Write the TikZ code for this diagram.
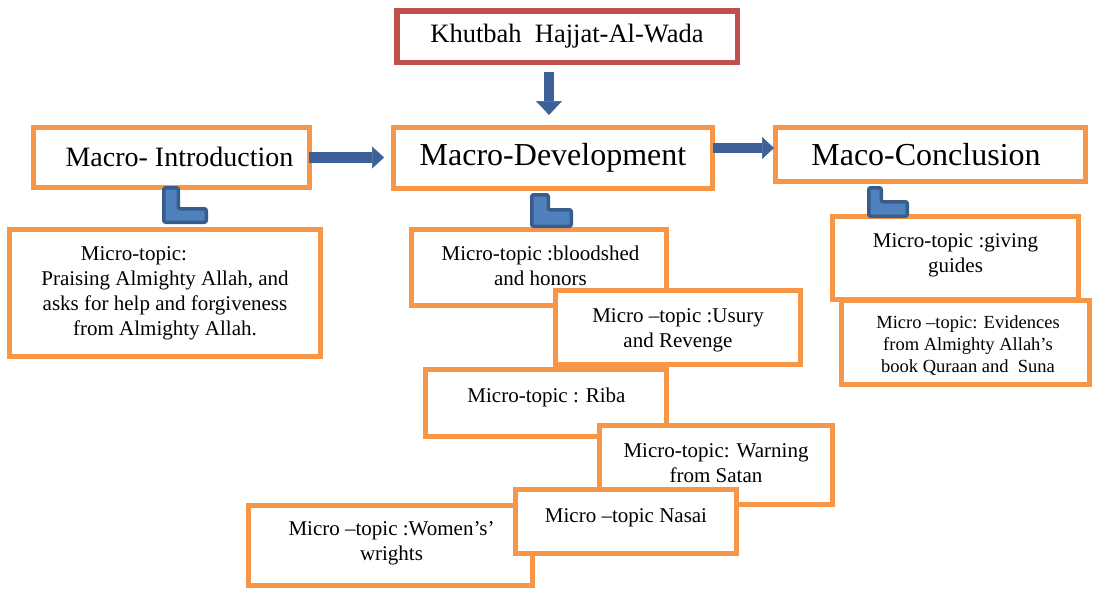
\documentclass[tikz,border=0pt]{standalone}
\usepackage{fontspec}
\setmainfont{Liberation Serif}
\usepackage{tikz}
\usetikzlibrary{arrows.meta}
\definecolor{boxOrange}{HTML}{F79646}
\definecolor{boxRed}{HTML}{C0504D}
\definecolor{arrowBlue}{HTML}{3D6196}
\definecolor{elbowFill}{HTML}{4F81BD}
\definecolor{elbowLine}{HTML}{385D8A}

\begin{document}
\begin{tikzpicture}[x=1pt,y=-1pt]
 \newcommand{\elbowMark}[6]{\draw[elbow] (#1+1.75,#2+1.75) -- ++(#5-3.5,0) -- ++(0,#6) -- ++(#3-#5,0) -- ++(0,#4-#6-3.5) -- ++(-#3+3.5,0) -- cycle;}
	\tikzset{box/.style = {draw=boxOrange,line width=5pt,fill=white,inner sep=0pt}}
	\tikzstyle{macro} = [box,font=\fontsize{32}{36}\selectfont]
	\tikzstyle{microText} = [align=center,anchor=base,inner sep=0pt,font=\fontsize{21}{25}\selectfont]
	\tikzstyle{fat} = [arrowBlue,line width=11pt,-{Triangle[length=12pt,width=22pt,line width=0.5pt]}]
	\tikzstyle{elbow} = [fill=elbowFill,draw=elbowLine,line width=3.5pt,rounded corners=2pt]
	\useasboundingbox (0,0) rectangle (1093,589);
	%title
	\node[box,draw=boxRed,line width=5.5pt,minimum width=340.5,minimum height=51.5,font=\fontsize{26.5}{30}\selectfont] (khutbah) at (567,36.5) {\raisebox{-3pt}{Khutbah~ Hajjat-Al-Wada}};
	%macro level
	\node[macro,font=\fontsize{28}{32}\selectfont,minimum width=276,minimum height=60] (intro) at (171.5,157.5) {\raisebox{2pt}{\hspace*{16pt}Macro- Introduction}};
	\node[macro,minimum width=319,minimum height=61] (dev) at (553,158) {Macro-Development};
	\node[macro,minimum width=310,minimum height=54] (concl) at (930.5,154.5) {\raisebox{-2pt}{Maco-Conclusion\hspace*{9pt}}};
	%arrows
	\draw[fat,line width=10pt,-{Triangle[length=14pt,width=26pt,line width=0.5pt]}] ([xshift=-18pt,yshift=-7pt]khutbah.south) -- ([xshift=-18pt,yshift=10pt]khutbah.south |- dev.north);
	\draw[fat] ([xshift=-3pt]intro.east) -- ([xshift=-7pt]intro.east -| dev.west);
	\draw[fat,line width=10pt] ([xshift=-2pt,yshift=10pt]dev.east) -- ([xshift=1pt,yshift=10pt]dev.east -| concl.west);
	%introduction (text nodes sit on the baseline of their last line)
	\node[box,minimum width=311,minimum height=127] (praise) at (165,293) {};
	\node[microText] (praiseTxt) at (165,335) {Micro-topic:\hspace*{62pt}\\Praising Almighty Allah, and\\asks for help and forgiveness\\from Almighty Allah.};
	%development
	\node[box,minimum width=255,minimum height=76] (blood) at (539,267.5) {};
	\node[microText] (bloodTxt) at (540.5,285) {Micro-topic :bloodshed\\and honors};
	\node[box,minimum width=245,minimum height=74] (usury) at (678,327.5) {};
	\node[microText] (usuryTxt) at (678,347) {Micro –topic :Usury\\and Revenge};
	\node[box,minimum width=241,minimum height=67] (riba) at (546,403) {};
	\node[microText] (ribaTxt) at (546.5,402) {Micro-topic : Riba};
	\node[box,minimum width=233,minimum height=79] (warn) at (716,465) {};
	\node[microText] (warnTxt) at (716,482) {Micro-topic: Warning\\from Satan};
	\node[box,minimum width=284,minimum height=80] (women) at (390.5,545.5) {};
	\node[microText] (womenTxt) at (391.5,560) {Micro –topic :Women’s’\\wrights};
	\node[box,minimum width=221,minimum height=64] (nasai) at (626,521.5) {};
	\node[microText] (nasaiTxt) at (626,522) {Micro –topic Nasai};
	%conclusion
	\node[box,minimum width=246,minimum height=83] (guides) at (955.5,258) {};
	\node[microText] (guidesTxt) at (955.5,272) {Micro-topic :giving\\guides};
	\node[box,minimum width=248,minimum height=84] (evid) at (965.5,342.5) {};
	\node[microText,font=\fontsize{18.5}{22}\selectfont] (evidTxt) at (968,372) {Micro –topic: Evidences\\from Almighty Allah’s\\book Quraan and~ Suna};
	%elbows
	\elbowMark{162}{186}{46}{38}{18}{21}
	\elbowMark{530}{193}{43}{35}{20}{15}
	\elbowMark{867}{186}{42}{32}{16}{14}
\end{tikzpicture}
\end{document}
